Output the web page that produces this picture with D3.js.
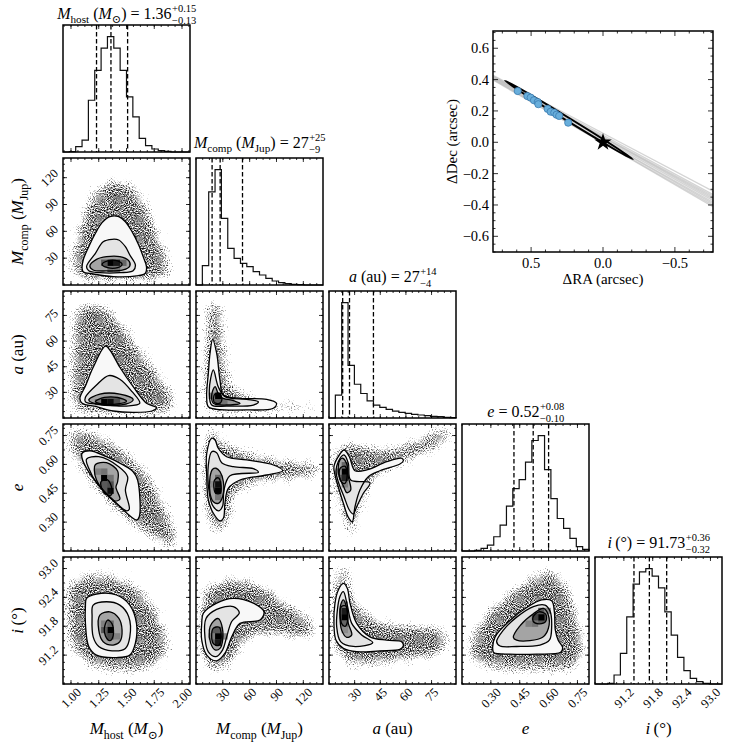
<!DOCTYPE html>
<html>
<head>
<meta charset="utf-8">
<script src="https://cdn.jsdelivr.net/npm/d3@7"></script>
<style>
  body { margin: 0; background: #fff; }
  svg { display: block; font-family: "Liberation Serif", "DejaVu Serif", serif; }
</style>
</head>
<body>
<div id="chart"></div>
<script>
/* corner plot + orbit inset */

// --- parameters: axis ranges, ticks, quantiles
const domains = [[0.928, 2.072], [0, 142], [15, 89.3], [0.15, 0.81], [90.6, 93.24]];
const majorTicks = [[1.00, 1.25, 1.50, 1.75, 2.00], [30, 60, 90, 120], [30, 45, 60, 75], [0.30, 0.45, 0.60, 0.75], [91.2, 91.8, 92.4, 93.0]];
const tickFormats = [".2f", "d", "d", ".2f", ".1f"];
const minorSteps = [0.0625, 7.5, 3.75, 0.0375, 0.15];
const quantiles = [[1.23, 1.36, 1.51], [18, 27, 52], [23, 27, 41], [0.42, 0.52, 0.60], [91.41, 91.73, 92.09]];
const titleValues = [["1.36", "+0.15", "−0.13"], ["27", "+25", "−9"], ["27", "+14", "−4"], ["0.52", "+0.08", "−0.10"], ["91.73", "+0.36", "−0.32"]];
const labelParts = [
  [["M", "i"], ["host", "s"], [" (", ""], ["M", "i"], ["⊙", "s"], [")", ""]],
  [["M", "i"], ["comp", "s"], [" (", ""], ["M", "i"], ["Jup", "s"], [")", ""]],
  [["a", "i"], [" (au)", ""]],
  [["e", "i"]],
  [["i", "i"], ["\u2009(°)", ""]]
];

// --- 1D histograms (20 bins over each axis range, relative counts)
const histMhost = [0, 1, 16, 36, 156, 246, 313, 348, 313, 246, 166, 106, 41, 19, 9, 4, 2, 0, 0, 0];
const histMcomp = [0, 58, 280, 347, 200, 110, 80, 65, 55, 40, 30, 20, 12, 7, 4, 2, 1, 0, 0, 0];
const histA = [0, 69, 349, 159, 102, 74, 52, 39, 32, 26, 21, 17, 14, 11, 9, 7, 5, 4, 2, 1];
const histE = [0, 0, 2, 8, 18, 43, 78, 135, 188, 215, 268, 333, 348, 245, 158, 98, 68, 38, 13, 5];
const histI = [0, 0, 2, 27, 92, 202, 300, 337, 347, 324, 289, 217, 147, 80, 40, 17, 7, 2, 0, 0];
const hists = [histMhost, histMcomp, histA, histE, histI];

// --- 2D panels: scatter envelope, contours (outer -> inner), dark density cells [x0, y0, gray]
const haloCompHost = [[0.99,16.8],[1.02,50.3],[1.11,87.6],[1.23,110],[1.38,121],[1.56,113.8],[1.71,87.6],[1.83,50.3],[1.92,20.5],[1.86,5.6],[1.47,1.9],[1.08,3.7]];
const contCompHost = [
  [[1.10,18.7],[1.11,28],[1.16,42.8],[1.22,57.8],[1.28,69.7],[1.35,76.4],[1.43,76.4],[1.49,70.8],[1.55,59.6],[1.61,44.7],[1.65,31.7],[1.68,20.5],[1.67,13.1],[1.59,10.1],[1.38,9.3],[1.20,12.3],[1.11,14.9]],
  [[1.14,20.5],[1.22,35.4],[1.29,48.4],[1.37,51.1],[1.43,50.3],[1.49,42.8],[1.53,33.6],[1.58,22.4],[1.56,16.0],[1.44,13.8],[1.26,13.8],[1.16,16.0]],
  [[1.17,21.3],[1.23,28.7],[1.32,31.7],[1.44,31.7],[1.52,27.2],[1.53,21.3],[1.47,16.8],[1.32,15.7],[1.20,16.8]],
  [[1.28,23],[1.33,27],[1.42,27],[1.46,23],[1.42,19.5],[1.33,19.5]]
];
const cellsCompHost = [[1.328,21.3,0],[1.386,21.3,0.1],[1.271,21.3,0.35],[1.443,21.3,0.4],[1.328,14.2,0.45],[1.386,14.2,0.45]];

const haloAHost = [[1.04,80],[1.26,83],[1.44,74],[1.65,55],[1.86,37],[1.97,22.6],[1.86,16.8],[1.50,16.2],[1.02,18.7],[0.98,31.4],[0.99,52.9]];
const contAHost = [
  [[1.31,57],[1.20,44.7],[1.13,33.7],[1.08,26.5],[1.10,23.6],[1.23,21.6],[1.38,19.1],[1.56,18.3],[1.73,19.1],[1.77,21.0],[1.68,23.6],[1.56,33.3],[1.44,44.7],[1.35,54.8]],
  [[1.34,39.8],[1.23,34.3],[1.13,27.1],[1.13,24.4],[1.26,23.0],[1.50,22.0],[1.62,23.6],[1.55,30.4],[1.44,37.7]],
  [[1.16,25.5],[1.26,29.0],[1.44,29.0],[1.56,25.9],[1.50,23.2],[1.26,22.8]],
  [[1.22,24.6],[1.30,27],[1.42,27],[1.50,24.8],[1.42,23.3],[1.28,23.3]]
];
const cellsAHost = [[1.271,22.4,0],[1.328,22.4,0.05],[1.386,22.4,0.3],[1.214,22.4,0.45],[1.443,22.4,0.55]];

const haloAComp = [[13.8,84],[28.7,83],[34.3,60.6],[41.7,35.3],[64,28.5],[94,25.5],[142,23.6],[142,21.6],[94,18.7],[34.3,17.3],[10,18.7],[6.4,31.4],[8.2,60.6]];
const contAComp = [
  [[18.6,61],[23.1,52.9],[26.8,37.2],[30.6,28.5],[49.2,26.5],[79,25.9],[90,23.6],[86.5,20.7],[56.7,19.7],[23.1,20.1],[13.8,21.6],[11.9,27.5],[13.8,41.2],[15.7,52.9]],
  [[19.4,43.1],[24.9,33.3],[32.4,27.5],[56.7,25.9],[69.7,24.5],[64.1,22.6],[34.3,22.0],[17.6,22.6],[14.9,29.5],[16.4,38.2]],
  [[21.3,33.3],[26.8,27.5],[41.7,25.1],[49.2,23.6],[34.3,22.6],[19.4,23.6],[17.6,28.5]],
  [[21,29],[26,29.5],[29,26],[26,23.5],[20,24.5]]
];
const cellsAComp = [[21.3,26.1,0],[21.3,22.4,0.35],[28.4,22.4,0.45],[35.5,22.4,0.6],[14.2,26.1,0.5]];

const haloEHost = [[0.96,0.779],[1.14,0.788],[1.47,0.692],[1.71,0.554],[1.86,0.398],[1.98,0.19],[1.92,0.155],[1.68,0.224],[1.47,0.311],[1.23,0.45],[1.02,0.623],[0.95,0.736]];
const contEHost = [
  [[1.10,0.658],[1.17,0.671],[1.32,0.640],[1.47,0.597],[1.56,0.562],[1.60,0.519],[1.615,0.328],[1.59,0.311],[1.44,0.380],[1.26,0.484],[1.14,0.580],[1.10,0.632]],
  [[1.14,0.627],[1.25,0.640],[1.43,0.588],[1.51,0.536],[1.49,0.467],[1.525,0.367],[1.50,0.359],[1.38,0.415],[1.23,0.505],[1.16,0.580]],
  [[1.22,0.600],[1.32,0.609],[1.42,0.566],[1.42,0.510],[1.405,0.481],[1.44,0.419],[1.39,0.411],[1.30,0.458],[1.23,0.519],[1.21,0.571]],
  [[1.27,0.51],[1.33,0.52],[1.37,0.47],[1.36,0.44],[1.30,0.45]]
];
const cellsEHost = [[1.271,0.513,0],[1.328,0.447,0.05],[1.271,0.48,0.35],[1.328,0.48,0.3],[1.328,0.513,0.45],[1.214,0.546,0.5],[1.271,0.546,0.45]];

const haloEComp = [[13.8,0.788],[21.3,0.796],[28.7,0.744],[56.7,0.675],[94,0.64],[139,0.606],[140.6,0.545],[105,0.51],[68,0.488],[45.5,0.432],[40,0.311],[30.6,0.238],[19.4,0.238],[8.9,0.363],[5.3,0.623],[8.2,0.753]];
const contEComp = [
  [[17.6,0.736],[12,0.658],[12,0.536],[13.8,0.415],[19.4,0.346],[26.8,0.306],[30.6,0.32],[32.4,0.398],[36.1,0.476],[49.2,0.519],[79,0.545],[97,0.567],[86.5,0.597],[56.7,0.623],[34.3,0.64],[24.9,0.684],[21.3,0.727]],
  [[17.6,0.666],[13.8,0.597],[14.9,0.45],[19.4,0.38],[25.7,0.359],[29.8,0.384],[31.3,0.467],[38,0.541],[69.7,0.559],[64.1,0.578],[41.7,0.588],[28.7,0.609],[23.1,0.661]],
  [[18.6,0.575],[15.7,0.536],[15.7,0.45],[19.4,0.406],[24.9,0.398],[29.8,0.432],[30.6,0.51],[26.8,0.562],[22.4,0.58]],
  [[21,0.52],[25,0.53],[28,0.49],[27,0.45],[22,0.45],[20,0.48]]
];
const cellsEComp = [[21.3,0.447,0],[21.3,0.48,0.05],[21.3,0.513,0.4],[21.3,0.414,0.45],[14.2,0.48,0.55]];

const haloEA = [[21.4,0.71],[27.3,0.727],[48.8,0.692],[83.9,0.8],[87.7,0.77],[84.8,0.71],[68.2,0.632],[54.6,0.58],[42.9,0.519],[37.1,0.432],[33.1,0.311],[30.2,0.216],[25.4,0.233],[20.4,0.363],[16.6,0.484],[15.6,0.588],[17.5,0.675]];
const contEA = [
  [[23.8,0.675],[26.9,0.64],[30.2,0.567],[37.1,0.571],[48.8,0.614],[57.5,0.632],[58.5,0.619],[56.5,0.602],[44.8,0.567],[38,0.536],[33.1,0.467],[30.2,0.38],[28.6,0.302],[26.3,0.325],[23.4,0.398],[20.4,0.484],[18.5,0.545],[17.9,0.588],[20.4,0.64]],
  [[23.8,0.649],[26.3,0.606],[27.7,0.519],[39,0.505],[35.1,0.45],[31.2,0.38],[29.2,0.342],[26.9,0.363],[23.8,0.432],[20.4,0.51],[19.1,0.562],[20.4,0.614]],
  [[23,0.632],[25.4,0.602],[26.3,0.536],[27.7,0.467],[25.4,0.453],[23.4,0.488],[21,0.536],[20.4,0.588],[21.4,0.623]],
  [[21.5,0.58],[24.5,0.59],[25.5,0.53],[24,0.50],[21.5,0.52]]
];
const cellsEA = [[22.4,0.546,0],[22.4,0.513,0.15],[22.4,0.579,0.4],[22.4,0.48,0.5],[18.7,0.546,0.55]];

const haloIHost = [[0.96,92.69],[1.14,92.93],[1.38,92.9],[1.59,92.69],[1.77,92.21],[1.89,91.58],[1.86,91.1],[1.68,90.86],[1.41,90.82],[1.14,90.96],[0.98,91.38],[0.94,92.07]];
const contIHost = [
  [[1.14,92.38],[1.23,92.47],[1.41,92.45],[1.53,92.24],[1.59,91.86],[1.58,91.45],[1.53,91.2],[1.41,91.15],[1.23,91.2],[1.16,91.38],[1.13,91.86],[1.13,92.21]],
  [[1.20,92.24],[1.32,92.31],[1.44,92.24],[1.52,92.0],[1.53,91.58],[1.49,91.34],[1.37,91.29],[1.25,91.38],[1.20,91.58],[1.19,92.0]],
  [[1.26,92.03],[1.35,92.1],[1.43,91.97],[1.46,91.72],[1.44,91.48],[1.38,91.41],[1.29,91.48],[1.25,91.72]],
  [[1.30,91.75],[1.33,91.93],[1.37,91.85],[1.38,91.6],[1.35,91.5],[1.31,91.6]]
];
const cellsIHost = [[1.328,91.656,0],[1.328,91.524,0.3],[1.271,91.656,0.35],[1.328,91.788,0.4],[1.271,91.788,0.5],[1.386,91.524,0.5]];

const haloIComp = [[6.4,92.55],[23.1,92.78],[45.5,92.85],[75,92.69],[109,92.24],[133,91.93],[135,91.62],[116,91.51],[86.5,91.58],[60.4,91.51],[45.5,91.1],[28.7,90.86],[12,90.86],[2.6,91.31],[1.5,92.21]];
const contIComp = [
  [[8.2,92.07],[23.1,92.28],[41.7,92.38],[64.1,92.28],[76,92.1],[71.6,91.93],[49.2,91.86],[39.9,91.58],[32.4,91.24],[23.1,91.08],[12,91.2],[6.4,91.51],[6.4,91.86]],
  [[11.2,91.96],[23.1,92.15],[41.7,92.21],[48.4,92.08],[39.9,91.9],[34.3,91.58],[29.8,91.31],[22.4,91.17],[13.8,91.27],[10.1,91.55]],
  [[17.6,91.86],[24.9,91.96],[28.7,91.83],[29.8,91.51],[26.8,91.34],[21.3,91.31],[16.4,91.45],[14.9,91.72]],
  [[19,91.75],[26,91.78],[28,91.5],[25,91.4],[19,91.45]]
];
const cellsIComp = [[21.3,91.524,0],[21.3,91.392,0.1],[21.3,91.656,0.35],[14.2,91.524,0.5],[28.4,91.524,0.55]];

const haloIA = [[20.4,93.04],[26.3,93.11],[29.2,92.55],[37.1,92.14],[48.8,91.93],[68.2,91.86],[81.9,91.79],[86.2,91.45],[80,91.17],[58.5,91.03],[39,90.95],[25.4,90.97],[17.5,91.31],[15.6,92.14],[17.2,92.83]];
const contIA = [
  [[23.4,92.69],[25.7,92.59],[27.3,92.28],[31.2,91.86],[39,91.58],[48.8,91.51],[57.5,91.48],[58.5,91.39],[56.5,91.32],[44.8,91.29],[31.2,91.27],[23.4,91.34],[19.1,91.51],[17.9,91.86],[18.5,92.28],[20.4,92.55]],
  [[23.4,92.52],[25.7,92.24],[28.3,91.86],[34.1,91.62],[40.6,91.46],[29.2,91.38],[21.8,91.48],[19.5,91.79],[19.9,92.14],[21.4,92.42]],
  [[23.4,92.35],[25.4,92.17],[26.3,91.86],[28.3,91.62],[25.4,91.57],[22.4,91.72],[21.4,92.03],[21.8,92.24]],
  [[22,92.2],[25,92.22],[25.8,91.9],[24.5,91.8],[22.5,91.85]]
];
const cellsIA = [[22.4,91.92,0],[22.4,92.052,0.1],[22.4,91.788,0.4],[22.4,91.656,0.55],[22.4,92.184,0.5]];

const haloIE = [[0.174,91.31],[0.192,91.65],[0.278,92.14],[0.417,92.62],[0.538,92.93],[0.633,93.0],[0.711,92.62],[0.772,91.86],[0.798,91.38],[0.746,90.89],[0.538,90.83],[0.33,90.86],[0.192,91.06]];
const contIE = [
  [[0.31,91.31],[0.322,91.58],[0.399,91.92],[0.486,92.19],[0.564,92.35],[0.616,92.33],[0.63,92.1],[0.635,91.72],[0.65,91.51],[0.673,91.36],[0.663,91.26],[0.538,91.22],[0.399,91.22],[0.316,91.25]],
  [[0.33,91.48],[0.365,91.72],[0.434,91.99],[0.521,92.21],[0.581,92.24],[0.607,92.12],[0.616,91.79],[0.604,91.51],[0.555,91.41],[0.434,91.38],[0.348,91.39]],
  [[0.417,91.57],[0.451,91.81],[0.521,92.06],[0.573,92.17],[0.599,92.03],[0.599,91.76],[0.569,91.57],[0.503,91.5],[0.434,91.51]],
  [[0.52,92.0],[0.55,92.1],[0.585,92.05],[0.585,91.9],[0.55,91.85],[0.52,91.9]]
];
const cellsIE = [[0.546,91.92,0],[0.513,91.92,0.25],[0.546,92.052,0.35],[0.48,91.788,0.5],[0.513,91.788,0.45],[0.579,92.052,0.55]];

// --- orbit inset
const obsRA = [0.593, 0.526, 0.503, 0.480, 0.454, 0.450, 0.385, 0.364, 0.339, 0.323, 0.305, 0.242];
const obsDec = [0.327, 0.295, 0.285, 0.268, 0.257, 0.243, 0.213, 0.195, 0.189, 0.176, 0.168, 0.125];
const bestOrbitTips = [[0.681, 0.393], [-0.208, -0.108]];
const bestOrbitHalfWidth = 0.011;
const grayOrbitRA = [0.80, -0.80];
const grayOrbitDecLeft = [0.445, 0.44, 0.435, 0.43, 0.425, 0.42, 0.415, 0.44, 0.43, 0.42];
const grayOrbitDecRight = [-0.33, -0.35, -0.37, -0.39, -0.41, -0.43, -0.42, -0.38, -0.36, -0.40];
const insetXTicks = [0.5, 0.0, -0.5];
const insetYTicks = [-0.6, -0.4, -0.2, 0.0, 0.2, 0.4, 0.6];

// ---------------------------------------------------------------
const W = 747, H = 747;
const S = 127, GAP = 6, X0 = 63, Y0 = 25;

const svg = d3.select("#chart").append("svg")
    .attr("width", W).attr("height", H)
    .attr("viewBox", [0, 0, W, H]);

const xs = domains.map((d, k) => d3.scaleLinear().domain(d).range([X0 + k * (S + GAP), X0 + k * (S + GAP) + S]));
const ys = domains.map((d, k) => d3.scaleLinear().domain(d).range([Y0 + k * (S + GAP) + S, Y0 + k * (S + GAP)]));

const defs = svg.append("defs");

// grainy scatter cloud: blurred envelope mixed with fine noise
const filt = defs.append("filter").attr("id", "speckle")
    .attr("filterUnits", "userSpaceOnUse")
    .attr("x", 0).attr("y", 0).attr("width", W).attr("height", H)
    .attr("color-interpolation-filters", "sRGB");
filt.append("feGaussianBlur").attr("in", "SourceAlpha").attr("stdDeviation", 7).attr("result", "blur");
filt.append("feTurbulence").attr("type", "fractalNoise").attr("baseFrequency", 0.95)
    .attr("numOctaves", 1).attr("seed", 7).attr("result", "noise");
filt.append("feColorMatrix").attr("in", "noise").attr("type", "matrix")
    .attr("values", "0 0 0 0 0  0 0 0 0 0  0 0 0 0 0  1 0 0 0 0").attr("result", "na");
filt.append("feComposite").attr("in", "blur").attr("in2", "na").attr("operator", "arithmetic")
    .attr("k1", 0).attr("k2", 1.6).attr("k3", 3.0).attr("k4", -2.6).attr("result", "mix");
filt.append("feFlood").attr("flood-color", "#111").attr("result", "ink");
filt.append("feComposite").attr("in", "ink").attr("in2", "mix").attr("operator", "in");

function minorVals(k) {
  const [lo, hi] = domains[k], st = minorSteps[k];
  const out = [];
  for (let v = Math.ceil(lo / st - 1e-9) * st; v <= hi + 1e-9; v += st) out.push(v);
  return out;
}

// inward ticks on all sides of a panel
function panelTicks(g, k, px, py, withY) {
  const t = g.append("g").attr("stroke", "#000").attr("stroke-width", 0.8);
  const x = xs[k];
  minorVals(k).forEach(v => {
    t.append("line").attr("x1", x(v)).attr("x2", x(v)).attr("y1", py + S).attr("y2", py + S - 2);
    t.append("line").attr("x1", x(v)).attr("x2", x(v)).attr("y1", py).attr("y2", py + 2);
  });
  majorTicks[k].forEach(v => {
    t.append("line").attr("x1", x(v)).attr("x2", x(v)).attr("y1", py + S).attr("y2", py + S - 4);
    t.append("line").attr("x1", x(v)).attr("x2", x(v)).attr("y1", py).attr("y2", py + 4);
  });
  if (withY != null) {
    const y = ys[withY];
    minorVals(withY).forEach(v => {
      t.append("line").attr("y1", y(v)).attr("y2", y(v)).attr("x1", px).attr("x2", px + 2);
      t.append("line").attr("y1", y(v)).attr("y2", y(v)).attr("x1", px + S).attr("x2", px + S - 2);
    });
    majorTicks[withY].forEach(v => {
      t.append("line").attr("y1", y(v)).attr("y2", y(v)).attr("x1", px).attr("x2", px + 4);
      t.append("line").attr("y1", y(v)).attr("y2", y(v)).attr("x1", px + S).attr("x2", px + S - 4);
    });
  }
}

function mathText(g, parts, size) {
  const t = g.append("text").attr("font-size", size).attr("fill", "#000");
  let cur = 0;
  parts.forEach(([s, st]) => {
    const sp = t.append("tspan").text(s);
    if (st.includes("i")) sp.attr("font-style", "italic");
    let want = 0;
    if (st.includes("s")) { want = size * 0.28; sp.attr("font-size", size * 0.7); }
    if (want !== cur) { sp.attr("dy", want - cur); cur = want; }
  });
  return t;
}

// --- diagonal histograms
const titleBase = [18.5, 147.5, 282, 416.5, 547.5];
hists.forEach((counts, k) => {
  const px = X0 + k * (S + GAP), py = Y0 + k * (S + GAP);
  const x = xs[k];
  const y = d3.scaleLinear().domain([0, 1.1 * d3.max(counts)]).range([py + S, py]);
  const [lo, hi] = domains[k];
  const edge = j => lo + j * (hi - lo) / counts.length;
  const pts = [[edge(0), 0]].concat(counts.map((c, j) => [edge(j), c]), [[edge(counts.length), counts[counts.length - 1]], [edge(counts.length), 0]]);
  const g = svg.append("g");
  g.append("path").datum(pts)
      .attr("d", d3.line().x(d => x(d[0])).y(d => y(d[1])).curve(d3.curveStepAfter))
      .attr("fill", "none").attr("stroke", "#111").attr("stroke-width", 1.2);
  quantiles[k].forEach(q => {
    g.append("line").attr("x1", x(q)).attr("x2", x(q)).attr("y1", py).attr("y2", py + S)
        .attr("stroke", "#000").attr("stroke-width", 1.3).attr("stroke-dasharray", "4.5,2.5");
  });
  panelTicks(g, k, px, py, null);
  g.append("rect").attr("x", px).attr("y", py).attr("width", S).attr("height", S)
      .attr("fill", "none").attr("stroke", "#000").attr("stroke-width", 1.5);

  // title with stacked errors
  const tg = svg.append("g");
  const main = mathText(tg, labelParts[k].concat([[" = " + titleValues[k][0], ""]]), 16);
  const w = main.node().getComputedTextLength();
  const sup = tg.append("text").attr("x", w + 0.5).attr("y", -6.8).attr("font-size", 10.5).text(titleValues[k][1]);
  const sub = tg.append("text").attr("x", w + 0.5).attr("y", 5.0).attr("font-size", 10.5).text(titleValues[k][2]);
  const tw = w + Math.max(sup.node().getComputedTextLength(), sub.node().getComputedTextLength());
  tg.attr("transform", `translate(${px + S / 2 - tw / 2},${titleBase[k]})`);
});

// --- 2D panels
const pairs = [
  { r: 1, c: 0, halo: haloCompHost, cont: contCompHost, cells: cellsCompHost },
  { r: 2, c: 0, halo: haloAHost, cont: contAHost, cells: cellsAHost },
  { r: 2, c: 1, halo: haloAComp, cont: contAComp, cells: cellsAComp },
  { r: 3, c: 0, halo: haloEHost, cont: contEHost, cells: cellsEHost },
  { r: 3, c: 1, halo: haloEComp, cont: contEComp, cells: cellsEComp },
  { r: 3, c: 2, halo: haloEA, cont: contEA, cells: cellsEA },
  { r: 4, c: 0, halo: haloIHost, cont: contIHost, cells: cellsIHost },
  { r: 4, c: 1, halo: haloIComp, cont: contIComp, cells: cellsIComp },
  { r: 4, c: 2, halo: haloIA, cont: contIA, cells: cellsIA },
  { r: 4, c: 3, halo: haloIE, cont: contIE, cells: cellsIE }
];
const levelFill = ["#f8f8f8", "#e4e4e4", "#a4a4a4", "#5a5a5a"];

pairs.forEach((p, n) => {
  const px = X0 + p.c * (S + GAP), py = Y0 + p.r * (S + GAP);
  const x = xs[p.c], y = ys[p.r];
  const shape = d3.line().x(d => x(d[0])).y(d => y(d[1])).curve(d3.curveCatmullRomClosed.alpha(0.5));

  defs.append("clipPath").attr("id", "clip" + n)
    .append("rect").attr("x", px).attr("y", py).attr("width", S).attr("height", S);

  const g = svg.append("g");
  const inner = g.append("g").attr("clip-path", `url(#clip${n})`);
  inner.append("g").attr("filter", "url(#speckle)")
    .append("path").datum(p.halo).attr("d", shape).attr("fill", "#000");
  p.cont.forEach((c, li) => {
    inner.append("path").datum(c).attr("d", shape).attr("fill", levelFill[li]);
  });
  const bw = (domains[p.c][1] - domains[p.c][0]) / 20, bh = (domains[p.r][1] - domains[p.r][0]) / 20;
  inner.selectAll("rect.cell").data(p.cells).join("rect")
      .attr("x", d => x(d[0])).attr("width", d => x(d[0] + bw) - x(d[0]))
      .attr("y", d => y(d[1] + bh)).attr("height", d => y(d[1]) - y(d[1] + bh))
      .attr("fill", d => d3.rgb(d[2] * 255, d[2] * 255, d[2] * 255));
  p.cont.forEach(c => {
    inner.append("path").datum(c).attr("d", shape)
        .attr("fill", "none").attr("stroke", "#000").attr("stroke-width", 1.3);
  });
  panelTicks(g, p.c, px, py, p.r);
  g.append("rect").attr("x", px).attr("y", py).attr("width", S).attr("height", S)
      .attr("fill", "none").attr("stroke", "#000").attr("stroke-width", 1.5);
});

// --- tick labels (rotated 45 deg) on bottom row and left column
const lastBottom = Y0 + 4 * (S + GAP) + S;
const TICK_FS = 12.5;
const C45 = Math.SQRT1_2;
function rotLabel(txt, place) {
  const probe = svg.append("text").attr("font-size", TICK_FS).text(txt);
  const w = probe.node().getComputedTextLength();
  probe.remove();
  const half = (w + TICK_FS * 0.7) * C45 / 2;
  const [cx, cy] = place(half);
  // 45 degree counter-clockwise rotation written as a matrix
  svg.append("text").attr("font-size", TICK_FS).attr("text-anchor", "middle")
      .attr("dy", "0.35em")
      .attr("transform", `matrix(${C45},${-C45},${C45},${C45},${cx},${cy})`)
      .text(txt);
}
for (let k = 0; k < 5; k++) {
  const f = d3.format(tickFormats[k]);
  majorTicks[k].forEach(v => rotLabel(f(v), half => [xs[k](v), lastBottom + 3 + half]));
  if (k > 0) majorTicks[k].forEach(v => rotLabel(f(v), half => [X0 - 4 - half, ys[k](v)]));
}

// --- axis labels
for (let k = 0; k < 5; k++) {
  const bx = svg.append("g").attr("transform", `translate(${X0 + k * (S + GAP) + S / 2},734)`);
  mathText(bx, labelParts[k], 17).attr("text-anchor", "middle");
  if (k > 0) {
    const ly = svg.append("g").attr("transform", `translate(23,${Y0 + k * (S + GAP) + S / 2}) rotate(-90)`);
    mathText(ly, labelParts[k], 17).attr("text-anchor", "middle");
  }
}

// --- orbit inset
const IL = 493, IR = 713, IT = 31, IB = 252;
const ix = d3.scaleLinear().domain([0.765, -0.765]).range([IL, IR]);
const iy = d3.scaleLinear().domain([-0.70, 0.71]).range([IB, IT]);
defs.append("clipPath").attr("id", "clipInset")
  .append("rect").attr("x", IL).attr("y", IT).attr("width", IR - IL).attr("height", IB - IT);

const ins = svg.append("g");
const insIn = ins.append("g").attr("clip-path", "url(#clipInset)");
grayOrbitDecLeft.forEach((d0, j) => {
  insIn.append("line")
      .attr("x1", ix(grayOrbitRA[0])).attr("y1", iy(d0))
      .attr("x2", ix(grayOrbitRA[1])).attr("y2", iy(grayOrbitDecRight[j]))
      .attr("stroke", "#bdbdbd").attr("stroke-width", 1.3).attr("stroke-opacity", 0.65);
});
{
  const [a, b] = bestOrbitTips;
  const ax = ix(a[0]), ay = iy(a[1]), bx = ix(b[0]), by = iy(b[1]);
  const cx = (ax + bx) / 2, cy = (ay + by) / 2;
  const rx = Math.hypot(bx - ax, by - ay) / 2;
  const ry = Math.abs(iy(0) - iy(bestOrbitHalfWidth));
  const ang = Math.atan2(by - ay, bx - ax) * 180 / Math.PI;
  insIn.append("ellipse").attr("cx", 0).attr("cy", 0).attr("rx", rx).attr("ry", ry)
      .attr("transform", `translate(${cx},${cy}) rotate(${ang})`)
      .attr("fill", "none").attr("stroke", "#000").attr("stroke-width", 2);
}
insIn.selectAll("circle.obs").data(obsRA).join("circle")
    .attr("cx", d => ix(d)).attr("cy", (d, j) => iy(obsDec[j])).attr("r", 3.6)
    .attr("fill", "#68aedb").attr("stroke", "#3a7bb0").attr("stroke-width", 0.8);
insIn.append("path").attr("d", d3.symbol(d3.symbolStar).size(95)())
    .attr("transform", `translate(${ix(0)},${iy(0)})`).attr("fill", "#000");

{
  const t = ins.append("g").attr("stroke", "#000").attr("stroke-width", 0.8);
  for (let v = -0.7; v <= 0.7001; v += 0.1) {
    const major = insetXTicks.some(m => Math.abs(m - v) < 1e-6), L = major ? 5 : 2.5;
    t.append("line").attr("x1", ix(v)).attr("x2", ix(v)).attr("y1", IB).attr("y2", IB - L);
    t.append("line").attr("x1", ix(v)).attr("x2", ix(v)).attr("y1", IT).attr("y2", IT + L);
  }
  for (let v = -0.7; v <= 0.7001; v += 0.05) {
    const major = insetYTicks.some(m => Math.abs(m - v) < 1e-6), L = major ? 5 : 2.5;
    t.append("line").attr("y1", iy(v)).attr("y2", iy(v)).attr("x1", IL).attr("x2", IL + L);
    t.append("line").attr("y1", iy(v)).attr("y2", iy(v)).attr("x1", IR).attr("x2", IR - L);
  }
}
ins.append("rect").attr("x", IL).attr("y", IT).attr("width", IR - IL).attr("height", IB - IT)
    .attr("fill", "none").attr("stroke", "#000").attr("stroke-width", 1.5);
const fmtI = v => (v < 0 ? "−" : "") + Math.abs(v).toFixed(1);
insetXTicks.forEach(v => {
  ins.append("text").attr("x", ix(v)).attr("y", 268).attr("font-size", 14.5)
      .attr("text-anchor", "middle").text(fmtI(v));
});
insetYTicks.forEach(v => {
  ins.append("text").attr("x", 489).attr("y", iy(v)).attr("dy", "0.35em").attr("font-size", 14.5)
      .attr("text-anchor", "end").text(fmtI(v));
});
ins.append("text").attr("x", (IL + IR) / 2).attr("y", 284).attr("font-size", 15)
    .attr("text-anchor", "middle").text("ΔRA (arcsec)");
ins.append("text").attr("transform", `translate(457,${(IT + IB) / 2}) rotate(-90)`).attr("font-size", 15)
    .attr("text-anchor", "middle").text("ΔDec (arcsec)");
</script>
</body>
</html>
